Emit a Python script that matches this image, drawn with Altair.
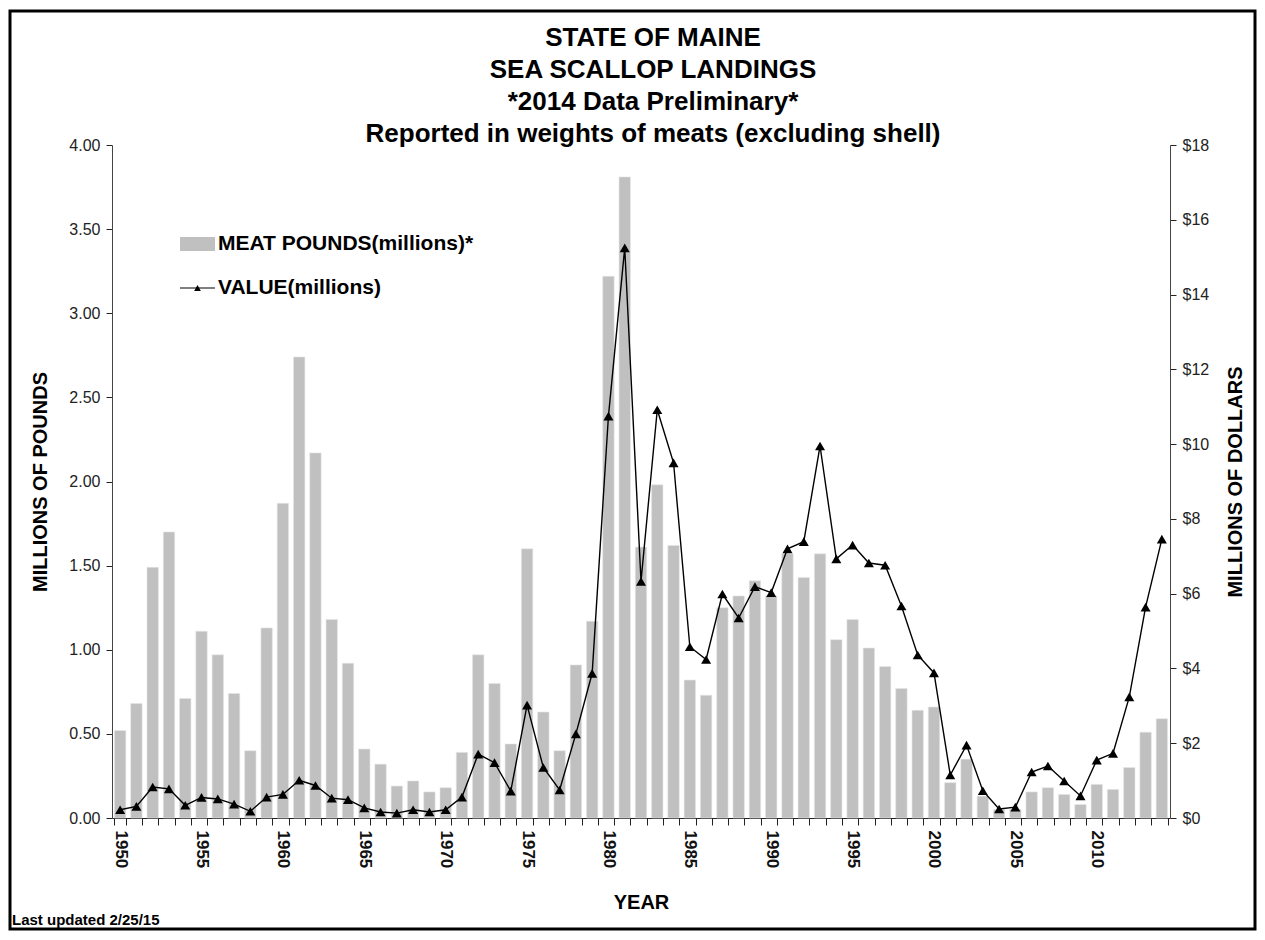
import altair as alt
import pandas as pd

years = list(range(1950, 2015))

meat_pounds = [
    0.52, 0.68, 1.49, 1.70, 0.71, 1.11, 0.97, 0.74, 0.40, 1.13,   # 1950-59
    1.87, 2.74, 2.17, 1.18, 0.92, 0.41, 0.32, 0.19, 0.22, 0.155,  # 1960-69
    0.18, 0.39, 0.97, 0.80, 0.44, 1.60, 0.63, 0.40, 0.91, 1.17,   # 1970-79
    3.22, 3.81, 1.61, 1.98, 1.62, 0.82, 0.73, 1.25, 1.32, 1.41,   # 1980-89
    1.32, 1.57, 1.43, 1.57, 1.06, 1.18, 1.01, 0.90, 0.77, 0.64,   # 1990-99
    0.66, 0.21, 0.35, 0.13, 0.05, 0.05, 0.155, 0.18, 0.14, 0.08,  # 2000-09
    0.20, 0.17, 0.30, 0.51, 0.59,                                 # 2010-14
]

value_millions = [
    0.22, 0.31, 0.83, 0.78, 0.34, 0.55, 0.51, 0.37, 0.18, 0.56,   # 1950-59
    0.63, 1.01, 0.87, 0.53, 0.49, 0.27, 0.16, 0.13, 0.22, 0.16,   # 1960-69
    0.22, 0.56, 1.71, 1.48, 0.72, 3.02, 1.35, 0.75, 2.25, 3.87,   # 1970-79
    10.75, 15.25, 6.33, 10.92, 9.50, 4.58, 4.24, 5.99, 5.35, 6.19,  # 1980-89
    6.03, 7.20, 7.39, 9.95, 6.93, 7.30, 6.82, 6.76, 5.67, 4.36,   # 1990-99
    3.88, 1.15, 1.95, 0.73, 0.24, 0.29, 1.23, 1.39, 0.99, 0.59,   # 2000-09
    1.55, 1.73, 3.24, 5.64, 7.46,                                 # 2010-14
]

title_lines = [
    "STATE OF MAINE",
    "SEA SCALLOP LANDINGS",
    "*2014 Data Preliminary*",
    "Reported in weights of meats (excluding shell)",
]
legend_labels = ["MEAT POUNDS(millions)*", "VALUE(millions)"]
footnote = "Last updated 2/25/15"

pounds_ticks = [0, 0.5, 1.0, 1.5, 2.0, 2.5, 3.0, 3.5, 4.0]
dollar_ticks = [0, 2, 4, 6, 8, 10, 12, 14, 16, 18]

FONT = "Liberation Sans"
W, H = 1058, 673

df = pd.DataFrame({"year": years, "pounds": meat_pounds, "value": value_millions})

x_enc = alt.X(
    "year:O",
    scale=alt.Scale(paddingInner=0.3, paddingOuter=0.15),
    axis=alt.Axis(
        title="YEAR",
        labelAngle=90,
        labelExpr="datum.value % 5 == 0 ? datum.label : ''",
        labelFont=FONT,
        labelFontSize=17,
        labelFontWeight="bold",
        labelColor="#111111",
        labelPadding=5,
        tickBand="extent",
        tickSize=7,
        tickColor="#222222",
        domainColor="#222222",
        titleFont=FONT,
        titleFontSize=20,
        titleFontWeight="bold",
        titlePadding=25,
        titleColor="#000000",
        labelOverlap=False,
    ),
)

bars = alt.Chart(df).mark_bar(color="#c0c0c0", stroke="#e6e6e6", strokeWidth=0.6).encode(
    x=x_enc,
    y=alt.Y(
        "pounds:Q",
        scale=alt.Scale(domain=[0, 4], nice=False),
        axis=alt.Axis(
            orient="left",
            title="MILLIONS OF POUNDS",
            values=pounds_ticks,
            format=".2f",
            grid=False,
            labelFont=FONT,
            labelFontSize=16,
            labelColor="#222222",
            labelPadding=6,
            tickSize=6,
            tickColor="#222222",
            domainColor="#444444",
            titleFont=FONT,
            titleFontSize=20,
            titleFontWeight="bold",
            titleColor="#000000",
            titlePadding=18,
        ),
    ),
)

line = alt.Chart(df).mark_line(
    color="black",
    strokeWidth=1.4,
    point=alt.OverlayMarkDef(shape="triangle-up", size=100, filled=True, color="black"),
).encode(
    x=x_enc,
    y=alt.Y(
        "value:Q",
        scale=alt.Scale(domain=[0, 18], nice=False),
        axis=alt.Axis(
            orient="right",
            title="MILLIONS OF DOLLARS",
            values=dollar_ticks,
            format="$.0f",
            grid=False,
            labelFont=FONT,
            labelFontSize=16,
            labelColor="#222222",
            labelPadding=6,
            tickSize=6,
            tickColor="#222222",
            domainColor="#444444",
            titleFont=FONT,
            titleFontSize=20,
            titleFontWeight="bold",
            titleColor="#000000",
            titleAngle=-90,
            titlePadding=37,
        ),
    ),
)

one = pd.DataFrame({"a": [0]})

# title lines as text marks above the plot
title_df = pd.DataFrame({"line": title_lines, "row": [0, 1, 2, 3]})
title = alt.Chart(title_df).mark_text(
    align="center", baseline="middle", font=FONT, fontSize=26, fontWeight="bold", color="black"
).encode(
    text="line:N",
    x=alt.value(541),
    y=alt.Y("row:Q", scale=alt.Scale(domain=[0, 1], range=[-107, -75]), axis=None),
)

# manual legend inside the plot (upper left)
leg_swatch = alt.Chart(one).mark_rect(color="#c0c0c0").encode(
    x=alt.value(68), x2=alt.value(103), y=alt.value(92), y2=alt.value(106)
)
leg_line = alt.Chart(one).mark_rule(color="black", strokeWidth=1.2).encode(
    x=alt.value(68), x2=alt.value(103), y=alt.value(143)
)
leg_tri = alt.Chart(one).mark_point(shape="triangle-up", size=45, filled=True, color="black", opacity=1).encode(
    x=alt.value(85.5), y=alt.value(143)
)
leg_text1 = alt.Chart(pd.DataFrame({"label": [legend_labels[0]]})).mark_text(
    align="left", baseline="middle", font=FONT, fontSize=21, fontWeight="bold", color="black"
).encode(text="label:N", x=alt.value(106), y=alt.value(99))
leg_text2 = alt.Chart(pd.DataFrame({"label": [legend_labels[1]]})).mark_text(
    align="left", baseline="middle", font=FONT, fontSize=21, fontWeight="bold", color="black"
).encode(text="label:N", x=alt.value(106), y=alt.value(143))

foot = alt.Chart(pd.DataFrame({"label": [footnote]})).mark_text(
    align="left", baseline="middle", font=FONT, fontSize=15, fontWeight="bold", color="black"
).encode(text="label:N", x=alt.value(-100), y=alt.value(775))

frame = alt.Chart(one).mark_rect(fill=None, stroke="black", strokeWidth=3).encode(
    x=alt.value(-102), x2=alt.value(1143), y=alt.value(-134), y2=alt.value(784)
)

chart = (
    alt.layer(bars, line, title, leg_swatch, leg_line, leg_tri, leg_text1, leg_text2, foot, frame)
    .resolve_scale(y="independent")
    .properties(
        width=W,
        height=H,
        autosize=alt.AutoSizeParams(type="none"),
        padding={"left": 104, "top": 137, "right": 87, "bottom": 114},
        background="white",
    )
    .configure_view(stroke=None)
)

chart.save("out.html", embed_options={"renderer": "svg", "actions": False})
